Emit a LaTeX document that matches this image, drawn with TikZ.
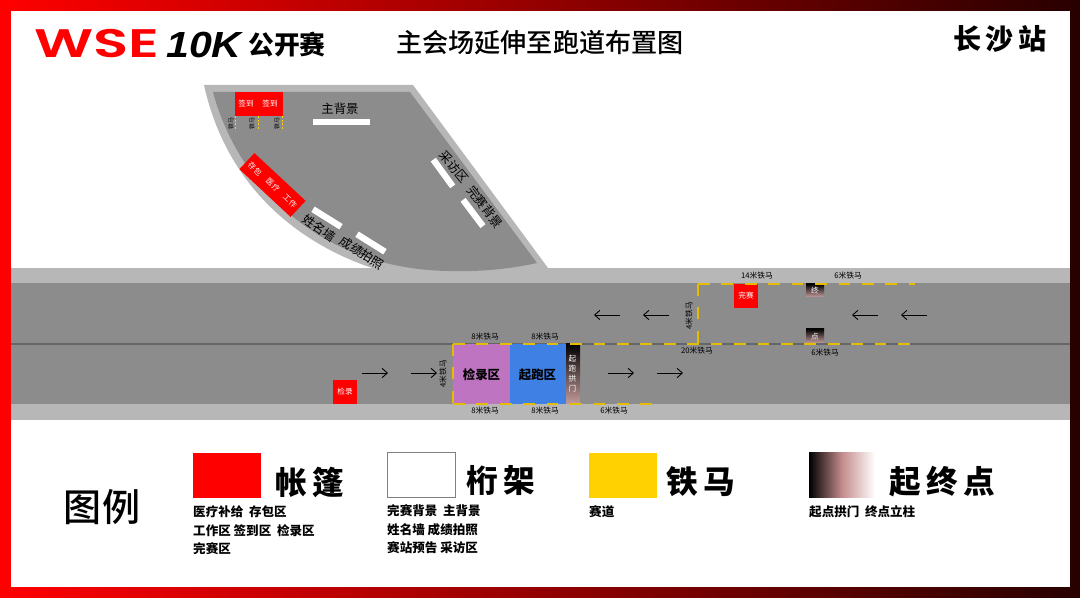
\documentclass[tikz,border=0pt]{standalone}
\usepackage{fontspec}
\setmainfont{Noto Sans CJK SC}
\newfontfamily\medfont{Noto Sans CJK SC Medium}
\newfontfamily\logofont{Poppins SemiBold}
\newfontfamily\numfont{Liberation Sans}
\usetikzlibrary{arrows.meta}
\definecolor{roadgray}{HTML}{8C8C8C}
\definecolor{edgegray}{HTML}{B7B7B7}
\definecolor{fence}{HTML}{FFD100}
\definecolor{tentred}{HTML}{FF0000}
\definecolor{postpink}{HTML}{E8A5A5}
\definecolor{postmid}{HTML}{78383C}
\definecolor{framedark}{HTML}{280000}
\definecolor{checkpurple}{HTML}{BE74C0}
\definecolor{runblue}{HTML}{3F80E5}
\newcommand{\fs}[1]{\fontsize{#1}{#1}\selectfont}

\begin{document}
\begin{tikzpicture}[x=0.03cm, y=-0.03cm]
    \tikzset{tent/.style={fill=tentred, text=white, inner sep=0pt, font=\fs{6.5}}}
    \tikzset{bar/.style={fill=white, minimum width=0.99cm, minimum height=0.19cm, inner sep=0pt}}
    \tikzset{plaza/.style={font=\fs{10.6}, text=black, inner sep=0pt}}
    \tikzset{fencelab/.style={font=\fs{6.6}, text=black, inner sep=0pt}}
    \tikzset{fenceline/.style={fence!90!black, line width=1.3pt, dash pattern=on 10pt off 10pt}}
    \tikzset{flow/.style={-{Straight Barb[length=4.5pt, width=8pt]}, line width=0.75pt, black}}
    \tikzset{legendhead/.style={font=\bfseries\fs{27}, inner sep=0pt, anchor=west}}
    \tikzset{legendtext/.style={font=\fs{10.7}\bfseries, inner sep=0pt, anchor=west}}
    \tikzset{postfade/.style={top color=black, middle color=postmid, bottom color=postpink!60!roadgray}}
    \useasboundingbox (0,0) rectangle (1080,598);

    % Frame
    \shade [left color=red, right color=framedark] (0,0) rectangle (1080,598);
    \fill [white] (11,11) rectangle (1070,587);

    % Header
    \node [font=\logofont\fs{34}, text=tentred, xscale=1.45, inner sep=0pt] (logo_wse) at (97,44) {WSE};
    \node [font=\numfont\bfseries\itshape\fs{31}, xscale=1.13, inner sep=0pt] (logo_10k) at (204,45) {10K};
    \node [font=\bfseries\fs{22}, inner sep=0pt] (logo_cn) at (287,45) {公开赛};
    \node [font=\medfont\fs{22.3}, inner sep=0pt] (title) at (540,43) {主会场延伸至跑道布置图};
    \node [font=\bfseries\fs{24}, inner sep=0pt] (station) at (1000,39) {长\,沙\,站};

    % Road edge
    \fill [edgegray] (11,268) rectangle (1070,420);

    % Plaza
    \fill [edgegray] (204,85) -- (413,85) -- (548,268) -- (372,268) .. controls (290,240) and (225,180) .. (204,85) -- cycle;
    \fill [roadgray] (213,92) -- (410,92) -- (537,263) .. controls (510,269) and (480,272) .. (447,271)
        .. controls (310,268) and (235,175) .. (213,92) -- cycle;

    % Road
    \fill [roadgray] (11,283) rectangle (1070,404);
    \fill [black!60] (11,343) rectangle (1070,345);

    % Plaza tents and bars
    \node [tent, minimum width=1.44cm, minimum height=0.72cm] (t_sign) at (259,104) {};
    \node [tent] (t_sign1) at (246,104) {签到};
    \node [tent] (t_sign2) at (270,104) {签到};
    \node [tent, rotate=-43, minimum width=2.1cm, minimum height=0.66cm] (t_store) at (272.5,185) {};
    \node [tent, rotate=-43] (t_store1) at (255,169) {存包};
    \node [tent, rotate=-43] (t_store2) at (273,185) {医疗};
    \node [tent, rotate=-43] (t_store3) at (290,201) {工作};
    \node [bar, minimum width=1.71cm] (b_main) at (341,122) {};
    \node [plaza] (l_main) at (340,109) {主背景};
    \node [bar, rotate=-54] (b_media) at (443,173) {};
    \node [plaza, rotate=-50] (l_media) at (454,167) {采访区};
    \node [bar, rotate=-53] (b_finish) at (473,213) {};
    \node [plaza, rotate=-53] (l_finish) at (485,207) {完赛背景};
    \node [bar, rotate=-32] (b_name) at (327,218) {};
    \node [plaza, rotate=-35] (l_name) at (319.5,228) {姓名墙};
    \node [bar, rotate=-32] (b_photo) at (371,243) {};
    \node [plaza, rotate=-33] (l_photo) at (362,253) {成绩拍照};

    % Small fences at sign-in
    \foreach \x in {235.5,258.5,282.5} {
        \draw [fence, line width=0.5pt, dash pattern=on 1.6pt off 1.6pt] (\x,116) -- (\x,131);
    }
    \foreach \x/\n in {231/a, 252/b, 277/c} {
        \node [rotate=90, font=\fs{5}, inner sep=0pt] (l_s\n) at (\x,124) {铁马};
    }

    % Start zone
    \fill [checkpurple] (453,344) rectangle (510,404);
    \fill [runblue] (510,344) rectangle (566,404);
    \node [font=\bfseries\fs{10.6}, inner sep=0pt] (l_check) at (481.5,375) {检录区};
    \node [font=\bfseries\fs{10.6}, inner sep=0pt] (l_run) at (537.5,375) {起跑区};
    \shade [postfade] (566,344) rectangle (580,404);
    \node [font=\fs{6.5}, text=white, align=center, inner sep=0pt] (l_arch) at (572.5,374) {起\\[2pt]跑\\[2pt]拱\\[2pt]门};

    % Finish posts
    \shade [postfade] (806,284) rectangle (824,297);
    \shade [postfade] (806,329) rectangle (824,343);
    \node [font=\fs{6.5}, text=white, inner sep=0pt] (l_end) at (815,291) {终};
    \node [font=\fs{6.5}, text=white, inner sep=0pt] (l_pt) at (815,337) {点};

    % Road tents
    \node [tent, minimum width=0.72cm, minimum height=0.72cm] (t_check) at (345,392) {检录};
    \node [tent, minimum width=0.72cm, minimum height=0.72cm] (t_done) at (746,296) {完赛};

    % Fences
    \draw [fenceline] (453,344) -- (915,344);
    \draw [fenceline] (453,404) -- (655,404);
    \draw [fenceline] (453,344) -- (453,404);
    \draw [fenceline] (698,284) -- (915,284);
    \draw [fenceline] (698,284) -- (698,344);

    \node [fencelab] (f1) at (757,276) {14米铁马};
    \node [fencelab] (f2) at (848,276) {6米铁马};
    \node [fencelab, rotate=90] (f3) at (689,316) {4米铁马};
    \node [fencelab] (f4) at (697,351) {20米铁马};
    \node [fencelab] (f5) at (825,353) {6米铁马};
    \node [fencelab] (f6) at (485,337) {8米铁马};
    \node [fencelab] (f7) at (545,337) {8米铁马};
    \node [fencelab, rotate=90] (f8) at (443,374) {4米铁马};
    \node [fencelab] (f9) at (485,411) {8米铁马};
    \node [fencelab] (f10) at (545,411) {8米铁马};
    \node [fencelab] (f11) at (614,411) {6米铁马};

    % Arrows
    \foreach \x in {362,411,608,657} {
        \draw [flow] (\x,373) -- ++(26,0);
    }
    \foreach \x in {620,669,878,927} {
        \draw [flow] (\x,315) -- ++(-26,0);
    }

    % Legend
    \node [font=\medfont\fs{32.5}, inner sep=0pt] (leg_title) at (102,507) {图例};

    \fill [tentred] (193,453) rectangle (261,498);
    \node [legendhead] (leg_tent) at (275,482) {帐\,篷};
    \node [legendtext] (leg_t1) at (193,512) {医疗补给\ \ 存包区};
    \node [legendtext] (leg_t2) at (193,531) {工作区 签到区\ \ 检录区};
    \node [legendtext] (leg_t3) at (193,549) {完赛区};

    \draw [black!50, fill=white] (387,452) rectangle (455,497);
    \node [legendhead] (leg_truss) at (466,481) {桁\,架};
    \node [legendtext] (leg_b1) at (387,511) {完赛背景\ \ 主背景};
    \node [legendtext] (leg_b2) at (387,530) {姓名墙 成绩拍照};
    \node [legendtext] (leg_b3) at (387,548) {赛站预告 采访区};

    \fill [fence] (589,453) rectangle (657,498);
    \node [legendhead] (leg_fence) at (666,482) {铁\,马};
    \node [legendtext] (leg_f1) at (589,512) {赛道};

    \shade [left color=black, right color=white, middle color=postpink!85!black] (809,453) rectangle (875,498);
    \node [legendhead] (leg_post) at (889,482) {起\,终\,点};
    \node [legendtext] (leg_p1) at (809,512) {起点拱门\ \ 终点立柱};
\end{tikzpicture}
\end{document}
